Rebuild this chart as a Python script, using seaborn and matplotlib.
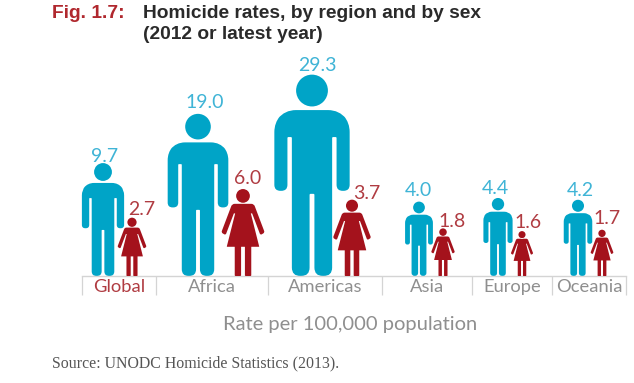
import numpy as np
import pandas as pd
import seaborn as sns
import matplotlib.pyplot as plt
from matplotlib.path import Path

REGIONS = ["Global", "Africa", "Americas", "Asia", "Europe", "Oceania"]
MALE_RATE = [9.7, 19.0, 29.3, 4.0, 4.4, 4.2]
FEMALE_RATE = [2.7, 6.0, 3.7, 1.8, 1.6, 1.7]

# layout, in output pixels
CELL_WIDTHS = [74, 112, 114, 90, 80, 74]
MALE_DODGE = [-16, -14, -13, -8, -14, -11]
FEMALE_DODGE = [13, 31, 27, 16, 10, 13]
MALE_LABEL_DX = [2, 7, 5, -1, -3, 2]
MALE_LABEL_DY = [1, 6, 4, 6, 4, 4]
FEMALE_LABEL_DX = [10, 5, 15, 9, 6, 5]
FEMALE_LABEL_DY = [3, 5, 1, 1, 3, 6]
# the source draws these icons a bit off from their rate
MALE_SIZE_FIX = [0.95, 1, 1, 1, 1, 1]
FEMALE_SIZE_FIX = [1, 1, 1.25, 1, 1, 1]
MALE_PX = 37.2  # icon height per sqrt(rate)
FEMALE_PX = 35.5

MALE_COLOR = "#00a4c7"
FEMALE_COLOR = "#a4121c"
MALE_TEXT = "#3fb4d6"
FEMALE_TEXT = "#b03c42"
GREY_TEXT = "#8f8f8f"
LINE_COLOR = "#d4d4d4"

W, H = 634, 383
LEFT, BASE, TOP = 82, 276, 70


def rounded_outline(pts):
    # pts is the right half as (x, y, radius), mirrored for the left half
    pts = pts + [(-x, y, r) for x, y, r in reversed(pts)]
    verts, codes = [], []
    n = len(pts)
    for i in range(n):
        p = np.array(pts[i][:2], dtype=float)
        r = pts[i][2]
        prev = np.array(pts[i - 1][:2], dtype=float)
        nxt = np.array(pts[(i + 1) % n][:2], dtype=float)
        if r == 0:
            a, b = p, p
        else:
            a = p + (prev - p) / np.linalg.norm(prev - p) * r
            b = p + (nxt - p) / np.linalg.norm(nxt - p) * r
        verts.append(a)
        codes.append(Path.MOVETO if i == 0 else Path.LINETO)
        if r != 0:
            verts += [p, b]
            codes += [Path.CURVE3, Path.CURVE3]
    verts.append(verts[0])
    codes.append(Path.CLOSEPOLY)
    return Path(verts, codes)


def person(body):
    # feet on y=0 and head top on y=1, so a scatter marker stands on its point
    head = Path.circle((0, 0.921), 0.079)
    return Path.make_compound_path(rounded_outline(body), head)


MALE_ICON = person([
    (0.0, 0.824, 0), (0.135, 0.824, 0.055), (0.187, 0.76, 0.045),
    (0.187, 0.423, 0.03), (0.122, 0.423, 0.03), (0.122, 0.69, 0.005),
    (0.1, 0.69, 0.005), (0.1, 0.0, 0.042), (0.012, 0.0, 0.042),
    (0.012, 0.408, 0.005), (0.0, 0.408, 0),
])
FEMALE_ICON = person([
    (0.0, 0.83, 0), (0.125, 0.83, 0.03), (0.25, 0.50, 0.02),
    (0.2, 0.47, 0.02), (0.105, 0.72, 0.002), (0.09, 0.72, 0.002),
    (0.187, 0.336, 0.005), (0.095, 0.336, 0.002), (0.095, 0.0, 0.01),
    (0.022, 0.0, 0.01), (0.022, 0.336, 0.002), (0.0, 0.336, 0),
])

sns.set_theme(style="white")
plt.rcParams["font.family"] = ["Lato", "DejaVu Sans"]

edges = np.concatenate([[0], np.cumsum(CELL_WIDTHS)])
centers = (edges[:-1] + edges[1:]) / 2

df = pd.DataFrame({
    "region": REGIONS,
    "center": centers,
    "male_x": centers + np.array(MALE_DODGE),
    "female_x": centers + np.array(FEMALE_DODGE),
    "male": np.array(MALE_RATE) * np.array(MALE_SIZE_FIX),
    "female": np.array(FEMALE_RATE) * np.array(FEMALE_SIZE_FIX),
    "base": 0.0,
})

fig = plt.figure(figsize=(W / 100, H / 100), dpi=100)
ax = fig.add_axes([LEFT / W, 1 - BASE / H, edges[-1] / W, (BASE - TOP) / H])
ax.patch.set_alpha(0)


def icon_area(px, rate):
    # marker height is 0.5*sqrt(s) points, so area follows the rate
    return (2 * px * 0.72) ** 2 * rate


sns.scatterplot(
    data=df, x="male_x", y="base", size="male",
    sizes=(0, icon_area(MALE_PX, 30)), size_norm=(0, 30),
    marker=MALE_ICON, color=MALE_COLOR, linewidth=0, edgecolor="none",
    legend=False, clip_on=False, zorder=2, ax=ax,
)
sns.scatterplot(
    data=df, x="female_x", y="base", size="female",
    sizes=(0, icon_area(FEMALE_PX, 30)), size_norm=(0, 30),
    marker=FEMALE_ICON, color=FEMALE_COLOR, linewidth=0, edgecolor="none",
    legend=False, clip_on=False, zorder=3, ax=ax,
)

for i, row in df.iterrows():
    male_top = MALE_PX * np.sqrt(row["male"])
    female_top = FEMALE_PX * np.sqrt(row["female"])
    ax.annotate(f"{MALE_RATE[i]:.1f}", (row["male_x"], 0),
                xytext=(MALE_LABEL_DX[i], male_top + MALE_LABEL_DY[i]),
                textcoords="offset pixels", ha="center", va="baseline",
                color=MALE_TEXT, fontsize=14, annotation_clip=False)
    ax.annotate(f"{FEMALE_RATE[i]:.1f}", (row["female_x"], 0),
                xytext=(FEMALE_LABEL_DX[i], female_top + FEMALE_LABEL_DY[i]),
                textcoords="offset pixels", ha="center", va="baseline",
                color=FEMALE_TEXT, fontsize=14, annotation_clip=False)

ax.set_xlim(edges[0], edges[-1])
ax.set_ylim(0, 1)
ax.set_xlabel("")
ax.set_ylabel("")
ax.set_yticks([])
ax.set_xticks(df["center"], REGIONS, fontsize=13.2, color=GREY_TEXT)
ax.set_xticks(edges, minor=True)
ax.tick_params(axis="x", which="major", length=0, pad=2.5)
ax.tick_params(axis="x", which="minor", length=14, width=0.9, color=LINE_COLOR, bottom=True)
ax.get_xticklabels()[0].set_color(FEMALE_TEXT)
sns.despine(ax=ax, left=True)
ax.spines["bottom"].set_color(LINE_COLOR)
ax.spines["bottom"].set_linewidth(1.0)

title_font = dict(family="Liberation Sans", weight="bold", fontsize=13.8, va="baseline")
fig.text(52 / W, 1 - 18 / H, "Fig. 1.7:", color="#b0282e", **title_font)
fig.text(143 / W, 1 - 18 / H, "Homicide rates, by region and by sex", color="#2a2a2a", **title_font)
fig.text(143 / W, 1 - 39 / H, "(2012 or latest year)", color="#2a2a2a", **title_font)
fig.text(350 / W, 1 - 330 / H, "Rate per 100,000 population", ha="center", va="baseline",
         color=GREY_TEXT, fontsize=14.5)
fig.text(52 / W, 1 - 367 / H, "Source: UNODC Homicide Statistics (2013).", va="baseline",
         family="Liberation Serif", color="#555555", fontsize=11.4)

fig.savefig("out.png", dpi=100)
